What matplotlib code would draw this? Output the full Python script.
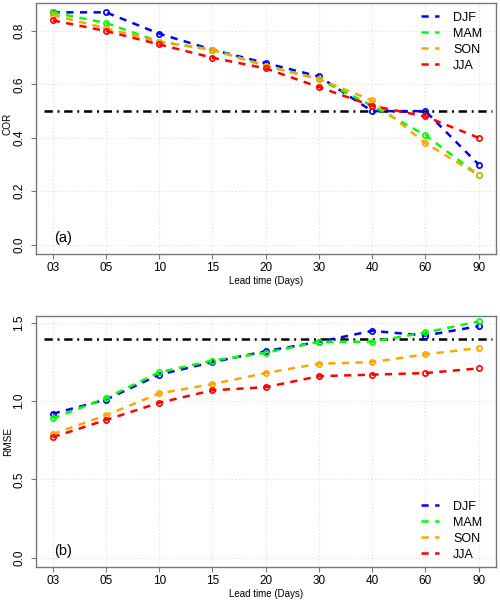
import matplotlib
matplotlib.use("Agg")
import matplotlib.pyplot as plt
import numpy as np
from matplotlib.lines import Line2D

plt.rcParams['font.family'] = ['Liberation Sans', 'DejaVu Sans']
plt.rcParams['lines.scale_dashes'] = False

lead_labels = ["03", "05", "10", "15", "20", "30", "40", "60", "90"]
seasons = ["DJF", "MAM", "SON", "JJA"]
colors = ["#0000FF", "#00FF00", "#FFA500", "#FF0000"]

cor_djf = [0.87, 0.87, 0.79, 0.73, 0.68, 0.63, 0.50, 0.50, 0.30]
cor_mam = [0.87, 0.83, 0.76, 0.73, 0.67, 0.62, 0.52, 0.41, 0.26]
cor_son = [0.86, 0.81, 0.76, 0.73, 0.67, 0.62, 0.54, 0.38, 0.26]
cor_jja = [0.84, 0.80, 0.75, 0.70, 0.66, 0.59, 0.52, 0.48, 0.40]

rmse_djf = [0.92, 1.01, 1.17, 1.25, 1.32, 1.38, 1.45, 1.42, 1.48]
rmse_mam = [0.89, 1.02, 1.185, 1.26, 1.31, 1.38, 1.38, 1.44, 1.51]
rmse_son = [0.79, 0.91, 1.05, 1.11, 1.18, 1.24, 1.25, 1.30, 1.34]
rmse_jja = [0.77, 0.88, 0.99, 1.07, 1.09, 1.16, 1.17, 1.18, 1.21]

cor_threshold = 0.5
rmse_threshold = 1.4

x = np.arange(1, len(lead_labels) + 1)

fig = plt.figure(figsize=(5.0, 6.02), dpi=100)
W, H = 500.0, 602.0
ax_a = fig.add_axes([35.7 / W, 1 - 254 / H, 460 / W, 251 / H])
ax_b = fig.add_axes([35.7 / W, 1 - 567 / H, 460 / W, 251 / H])

spine_col = "#777777"


def style(ax, yticks, ylim, ylabel, ylab_y, tag):
    ax.set_xlim(0.68, 9.32)
    ax.set_ylim(*ylim)
    ax.set_xticks(x)
    ax.set_xticklabels(lead_labels)
    ax.set_yticks(yticks)
    ax.set_yticklabels(["%.1f" % v for v in yticks], rotation=90, va='center')
    ax.tick_params(axis='both', direction='out', length=3.6, width=0.8,
                   color=spine_col, labelsize=8.5, labelcolor='black')
    ax.tick_params(axis='x', pad=2.0)
    ax.tick_params(axis='y', pad=4.0)
    for s in ax.spines.values():
        s.set_color(spine_col)
        s.set_linewidth(1.0)
    ax.grid(True, linestyle=':', color='#e2e2e2', linewidth=0.8)
    ax.set_axisbelow(True)
    ax.set_xlabel("Lead time (Days)", fontsize=7.0)
    ax.xaxis.set_label_coords(0.5, -0.088)
    ax.set_ylabel(ylabel, fontsize=7.2)
    ax.yaxis.set_label_coords(-0.05, ylab_y)
    ax.text(0.04, 0.035, tag, transform=ax.transAxes, fontsize=10.5,
            ha='left', va='bottom')


dash = (0, (5.2, 4.6))
dashdot = (0, (6.0, 3.4, 1.4, 3.4))

cor_series = [cor_djf, cor_mam, cor_son, cor_jja]
rmse_series = [rmse_djf, rmse_mam, rmse_son, rmse_jja]

for ax, series, thr in [(ax_a, cor_series, cor_threshold),
                        (ax_b, rmse_series, rmse_threshold)]:
    ax.hlines(thr, 0.84, 9.25, colors='black', linestyles=dashdot, linewidth=1.8, zorder=2)
    for name, vals, c in zip(seasons, series, colors):
        ax.plot(x, vals, color=c, linestyle=dash, linewidth=1.8,
                marker='o', markersize=3.8, markerfacecolor='none',
                markeredgecolor=c, markeredgewidth=1.2, label=name, zorder=3)

style(ax_a, [0.0, 0.2, 0.4, 0.6, 0.8], (-0.035, 0.905), "COR", 0.52, "(a)")
style(ax_b, [0.0, 0.5, 1.0, 1.5], (-0.06, 1.545), "RMSE", 0.5, "(b)")

handles = [Line2D([], [], color=c, linestyle=dash, linewidth=1.8) for c in colors]

ax_a.legend(handles, seasons, loc='upper left', bbox_to_anchor=(0.838, 0.965),
            frameon=False, fontsize=9, handlelength=1.45, handletextpad=1.1,
            labelspacing=0.32, borderpad=0, borderaxespad=0)
ax_b.legend(handles, seasons, loc='lower left', bbox_to_anchor=(0.838, 0.025),
            frameon=False, fontsize=9, handlelength=1.45, handletextpad=1.1,
            labelspacing=0.32, borderpad=0, borderaxespad=0)

fig.savefig("out.png", dpi=100)
